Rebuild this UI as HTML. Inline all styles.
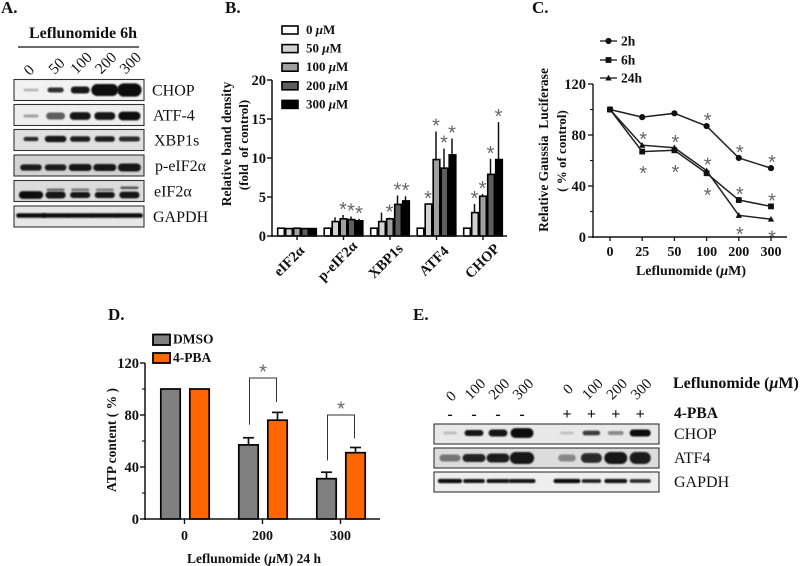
<!DOCTYPE html>
<html>
<head>
<meta charset="utf-8">
<title>Leflunomide figure</title>
<style>
html,body{margin:0;padding:0;background:#fff;}
svg{display:block;}
text{font-family:"Liberation Serif",serif;fill:#111;}
.b{font-weight:bold;}
.r{font-weight:normal;}
.star{font-family:"Liberation Sans",sans-serif;fill:#666;font-size:20px;text-anchor:middle;}
</style>
</head>
<body>
<svg id="fig" xmlns="http://www.w3.org/2000/svg" width="800" height="566" viewBox="0 0 800 566">
<defs>
<filter id="blur" x="-30%" y="-100%" width="160%" height="300%"><feGaussianBlur stdDeviation="0.9"/></filter>
</defs>
<text class="b" x="1" y="13" font-size="17">A.</text>
<text class="b" x="225" y="13" font-size="17">B.</text>
<text class="b" x="532" y="13" font-size="17">C.</text>
<text class="b" x="108" y="320" font-size="17">D.</text>
<text class="b" x="413" y="320" font-size="17">E.</text>

<text class="b" x="29" y="38" font-size="16">Leflunomide 6h</text>
<line x1="18" y1="47" x2="139" y2="47" stroke="#111" stroke-width="1.2"/>

<text class="b" font-size="13.5" text-anchor="middle" transform="translate(231,144) rotate(-90)">Relative band density</text>
<text class="b" font-size="13" text-anchor="middle" transform="translate(248,145) rotate(-90)" xml:space="preserve">(fold  of control)</text>

<text class="b" font-size="13.5" text-anchor="middle" transform="translate(548,150) rotate(-90)" xml:space="preserve">Relative Gaussia  Luciferase</text>
<text class="b" font-size="13" text-anchor="middle" transform="translate(566,151) rotate(-90)">( % of control)</text>
<text class="b" font-size="14" text-anchor="middle" x="691" y="275">Leflunomide (<tspan font-style="italic">μ</tspan>M)</text>

<text class="b" font-size="13.5" text-anchor="middle" transform="translate(116,440) rotate(-90)">ATP content ( % )</text>
<text class="b" font-size="13.5" text-anchor="middle" x="254" y="563">Leflunomide (<tspan font-style="italic">μ</tspan>M) 24 h</text>

<text class="b" font-size="16" x="673" y="388">Leflunomide (<tspan font-style="italic">μ</tspan>M)</text>
<text class="b" font-size="15.5" x="674" y="418">4-PBA</text>

<g id="layer"></g>
</svg>
<script>
// Chart B: relative band density
var bCategories = ['eIF2α', 'p-eIF2α', 'XBP1s', 'ATF4', 'CHOP'];
var bSeriesNames = ['0 μM', '50 μM', '100 μM', '200 μM', '300 μM'];
var bFills = ['#ffffff', '#d2d2d2', '#a0a0a0', '#5e5e5e', '#000000'];
var bValues0 = [1, 1, 1, 1, 1];
var bValues50 = [0.95, 1.85, 1.85, 4.1, 3];
var bValues100 = [1, 2.2, 2.2, 9.8, 5.1];
var bValues200 = [0.95, 2.1, 4.05, 8.7, 7.9];
var bValues300 = [0.95, 1.95, 4.5, 10.4, 9.8];
var bTops0 = [1, 1, 1, 1, 1];
var bTops50 = [0.95, 2.4, 3, 4.1, 4.1];
var bTops100 = [1, 2.7, 2.35, 13.4, 5.4];
var bTops200 = [0.95, 2.5, 5.2, 11.2, 9.9];
var bTops300 = [0.95, 2.2, 5.1, 12.5, 14.6];
var bStars50 = [0, 0, 0, 1, 1];
var bStars100 = [0, 1, 1, 1, 1];
var bStars200 = [0, 1, 1, 1, 1];
var bStars300 = [0, 1, 1, 1, 1];
var bTicks = [0, 5, 10, 15, 20];

// Chart C: luciferase
var cCategories = ['0', '25', '50', '100', '200', '300'];
var cSeries2h = [100, 94, 97, 87, 62, 54];
var cSeries6h = [100, 67, 68, 50, 29, 24];
var cSeries24h = [100, 72, 70, 52, 17, 14];
var cTicks = [0, 40, 80, 120];
var cMinorTicks = [20, 60, 100];
var cStars2hAbove = [0, 0, 0, 1, 1, 1];
var cStars24hAbove = [0, 1, 1, 1, 0, 0];
var cStars6hAbove = [0, 0, 0, 0, 1, 1];
var cStars6hBelow = [0, 1, 1, 1, 0, 0];
var cStars24hBelow = [0, 0, 0, 0, 1, 1];

// Chart D: ATP content
var dCategories = ['0', '200', '300'];
var dDmso = [100, 57, 31];
var dPba = [100, 76, 51];
var dDmsoTops = [100, 62.5, 36];
var dPbaTops = [100, 82, 55];
var dTicks = [0, 40, 80, 120];
var dMinorTicks = [20, 60, 100];
var dBracketTops = [null, 108.5, 80];
var dBracketLeftEnds = [null, 72.5, 45];
var dBracketRightEnds = [null, 90, 62];

// Blot band darkness (0-1), relative width and relative thickness by lane
var aLaneLabels = ['0', '50', '100', '200', '300'];
var aRowLabels = ['CHOP', 'ATF-4', 'XBP1s', 'p-eIF2α', 'eIF2α', 'GAPDH'];
var aDark = [[0.2, 0.8, 0.95, 1, 1], [0.3, 0.6, 0.95, 0.95, 0.97], [0.85, 0.95, 0.9, 0.9, 0.85], [0.9, 0.9, 0.92, 0.92, 0.95], [0.97, 0.95, 0.92, 0.92, 0.95], [0.97, 0.97, 0.97, 0.97, 0.97]];
var aSize = [[0.55, 0.6, 0.7, 1, 0.9], [0.55, 0.7, 0.78, 0.78, 0.82], [0.55, 0.8, 0.75, 0.75, 0.78], [0.8, 0.8, 0.85, 0.85, 0.85], [0.9, 0.75, 0.75, 0.75, 0.75], [1.1, 1, 1, 1, 1]];
var aThick = [[0.2, 0.35, 0.5, 0.85, 0.95], [0.22, 0.5, 0.55, 0.55, 0.62], [0.3, 0.45, 0.4, 0.4, 0.35], [0.45, 0.45, 0.5, 0.5, 0.58], [0.55, 0.5, 0.42, 0.42, 0.48], [0.32, 0.32, 0.32, 0.32, 0.32]];
var aUpperDark = [0, 0.55, 0.5, 0.45, 0.65];
var aBg = ['#f2f2f2', '#eeeeee', '#e0e0e0', '#d2d2d2', '#dcdcdc', '#e6e6e6'];

var eLaneLabels = ['0', '100', '200', '300', '0', '100', '200', '300'];
var eSigns = ['-', '-', '-', '-', '+', '+', '+', '+'];
var eRowLabels = ['CHOP', 'ATF4', 'GAPDH'];
var eDark = [[0.18, 0.95, 0.92, 1, 0.16, 0.75, 0.4, 0.98], [0.5, 0.88, 0.9, 0.95, 0.42, 0.85, 0.95, 0.9], [0.97, 0.92, 0.92, 0.92, 0.97, 0.88, 0.92, 0.85]];
var eSize = [[0.5, 0.7, 0.7, 0.85, 0.5, 0.65, 0.58, 0.78], [0.78, 0.85, 0.85, 0.9, 0.65, 0.78, 0.85, 0.78], [0.9, 0.8, 0.85, 1, 1, 0.72, 0.85, 0.78]];
var eThick = [[0.2, 0.42, 0.5, 0.7, 0.2, 0.34, 0.28, 0.5], [0.5, 0.58, 0.64, 0.85, 0.5, 0.7, 0.85, 0.85], [0.3, 0.28, 0.28, 0.28, 0.3, 0.26, 0.3, 0.26]];
var eBg = ['#e8e8e8', '#dcdcdc', '#eeeeee'];

var NS = 'http://www.w3.org/2000/svg';
var layer = document.getElementById('layer');

function mk(tag, props, name, parent) {
  var el = document.createElementNS(NS, tag);
  for (var k in props) { el.setAttribute(k, props[k]); }
  
  
  (parent || layer).appendChild(el);
  return el;
}
function label(txt, x, y, size, anchor, weight, name, rot) {
  var p = { x: x, y: y, 'font-size': size, 'text-anchor': anchor, 'class': weight };
  if (rot) { p.x = 0; p.y = 0; p.transform = 'translate(' + x + ',' + y + ') rotate(' + rot + ')'; }
  var el = mk('text', p, name);
  el.textContent = txt;
  return el;
}
function line(x1, y1, x2, y2, w, name, color) {
  return mk('line', { x1: x1, y1: y1, x2: x2, y2: y2, stroke: color || '#111', 'stroke-width': w }, name);
}
function star(x, y, name) {
  var el = mk('text', { x: x, y: y + 11.5, 'class': 'star' }, name);
  el.textContent = '*';
}

/* ---- blots ---- */
function gray(d) {
  var v = Math.round(255 * (1 - d) * 0.85 + 8);
  return 'rgb(' + v + ',' + v + ',' + v + ')';
}
function blot(x0, x1, yc, h, bg, laneX, dark, size, thick, bandOff, name) {
  var g = mk('g', {}, name);
  mk('rect', { x: x0, y: yc - h / 2, width: x1 - x0, height: h, fill: bg }, name + '-background', g);
  for (var i = 0; i < dark.length; i++) {
    var bw = 27 * size[i], bh = 14 * thick[i];
    mk('rect', { x: laneX(i) - bw / 2, y: yc + bandOff - bh / 2, width: bw, height: bh, rx: bh / 2, ry: bh / 2, fill: gray(dark[i]), filter: 'url(#blur)' }, name + '-band-' + i, g);
  }
  mk('rect', { x: x0, y: yc - h / 2, width: x1 - x0, height: h, fill: 'none', stroke: '#333', 'stroke-width': 1.1 }, name + '-frame', g);
}
function aLaneX(i) { return 31 + i * 24.6; }
var aRowYs = function (i) { return i < 3 ? 90 + i * 25 : 165.5 + (i - 3) * 25.5; };
var aRowLabelX = [152, 153, 154, 155, 154, 153];
aRowLabels.forEach(function (lab, r) {
  var off = r === 3 ? 2 : (r === 4 ? 4 : (r === 1 ? 1 : (r === 2 || r === 5 ? -1 : 0)));
  blot(14, 144, aRowYs(r), 21, aBg[r], aLaneX, aDark[r], aSize[r], aThick[r], off, 'blot-a-row-' + lab.toLowerCase());
  label(lab, aRowLabelX[r], aRowYs(r) + 5.5, 16, 'start', 'r', 'blot-a-label-' + lab.toLowerCase());
});
aUpperDark.forEach(function (d, i) {
  if (d > 0) {
    mk('rect', { x: aLaneX(i) - 9, y: 188.5 - (i === 4 ? 2 : 0), width: 18, height: 2.6, rx: 1.3, fill: gray(d), filter: 'url(#blur)' }, 'blot-a-eif2a-upper-band-' + i);
  }
});
var aLaneYs = function (i) { return i === 0 ? 71 : (i === 1 ? 67 : 64); };
aLaneLabels.forEach(function (lab, i) {
  label(lab, aLaneX(i) + 2 - (i === 0 ? 3 : 0), aLaneYs(i), 15.5, 'middle', 'r', 'blot-a-lane-' + lab, -45).setAttribute('dominant-baseline', 'middle');
});

function eLaneX(i) { return i < 4 ? 450 + i * 24 : 567 + (i - 4) * 24.4; }
eRowLabels.forEach(function (lab, r) {
  blot(434, 659, 434 + r * 24, 20, eBg[r], eLaneX, eDark[r], eSize[r], eThick[r], r === 1 ? 0 : -1, 'blot-e-row-' + lab.toLowerCase());
  label(lab, 674, 439 + r * 24, 16, 'start', 'r', 'blot-e-label-' + lab.toLowerCase());
});
eLaneLabels.forEach(function (lab, i) {
  var dy = (i === 0) ? 397 : 390;
  label(lab, eLaneX(i) + 2, dy, 15, 'middle', 'r', 'blot-e-lane-' + i, -45).setAttribute('dominant-baseline', 'middle');
  label(eSigns[i], eLaneX(i), 419, 16, 'middle', 'b', 'blot-e-sign-' + i);
});

/* ---- chart B ---- */
var bY = function (v) { return 236 - v * 7.8; };
var bGroupX = function (g) { return 277 + g * 46.5; };
var bValues = [bValues0, bValues50, bValues100, bValues200, bValues300];
var bTops = [bTops0, bTops50, bTops100, bTops200, bTops300];
var bStars = [null, bStars50, bStars100, bStars200, bStars300];
bCategories.forEach(function (cat, g) {
  for (var s = 0; s < 5; s++) {
    var x = bGroupX(g) + s * 8;
    var v = bValues[s][g], t = bTops[s][g];
    if (t > v) { line(x + 3.5, bY(v), x + 3.5, bY(t), 1.5, 'bar-b-error-' + g + '-' + s); }
    mk('rect', { x: x + 0.7, y: bY(v), width: 6.6, height: 236 - bY(v), fill: bFills[s], stroke: '#000', 'stroke-width': 1.6 }, 'bar-b-' + g + '-' + s);
    if (bStars[s] && bStars[s][g]) { star(x + 3.5, bY(t) - 10.5, 'star-b-' + g + '-' + s); }
  }
  line(bGroupX(g) + 20, 236, bGroupX(g) + 20, 240, 1.4, 'tick-b-x-' + g);
  label(cat, bGroupX(g) + 13 + g * 1.8, 262, 14.5, 'middle', 'b', 'label-b-x-' + g, -45).setAttribute('dominant-baseline', 'middle');
});
line(272, 80, 272, 237, 1.5, 'axis-b-y');
line(271, 236, 507, 236, 1.5, 'axis-b-x');
bTicks.forEach(function (t) {
  line(267, bY(t), 272, bY(t), 1.4, 'tick-b-y-' + t);
  label(String(t), 266, bY(t) + 5, 14.5, 'end', 'b', 'label-b-y-' + t);
});
bSeriesNames.forEach(function (n, s) {
  var yy = 26 + s * 18.6;
  mk('rect', { x: 282, y: yy, width: 16, height: 8, fill: bFills[s], stroke: '#000', 'stroke-width': 1.6 }, 'legend-b-swatch-' + s);
  var parts = n.split(' ');
  var t = mk('text', { x: 306, y: yy + 8, 'font-size': 13, 'class': 'b' }, 'legend-b-entry-' + s);
  t.textContent = parts[0] + ' ';
  var sp = mk('tspan', { 'font-style': 'italic' }, 'legend-b-unit-prefix-' + s, t);
  sp.textContent = 'μ';
  t.appendChild(document.createTextNode('M'));
});

/* ---- chart C ---- */
var cY = function (v) { return 237 - v * 1.275; };
var cX = function (i) { return 610 + i * 32.2; };
function marker(kind, x, y, name) {
  if (kind === 'circle') { mk('circle', { cx: x, cy: y, r: 3.1, fill: '#111' }, name); }
  if (kind === 'square') { mk('rect', { x: x - 2.9, y: y - 2.9, width: 5.8, height: 5.8, fill: '#111' }, name); }
  if (kind === 'triangle') { mk('polygon', { points: (x - 3.2) + ',' + (y + 2.5) + ' ' + (x + 3.2) + ',' + (y + 2.5) + ' ' + x + ',' + (y - 3.2), fill: '#111' }, name); }
}
function series(vals, kind, name) {
  var pts = vals.map(function (v, i) { return cX(i) + ',' + cY(v); }).join(' ');
  mk('polyline', { points: pts, fill: 'none', stroke: '#222', 'stroke-width': 1.5 }, 'line-' + name);
  vals.forEach(function (v, i) { marker(kind, cX(i), cY(v), 'point-' + name + '-' + i); });
}
series(cSeries24h, 'triangle', 'c-24h');
series(cSeries6h, 'square', 'c-6h');
series(cSeries2h, 'circle', 'c-2h');
function cStars(flags, vals, off, name) {
  flags.forEach(function (f, i) { if (f) { star(cX(i) + 1, cY(vals[i]) + off, 'star-' + name + '-' + i); } });
}
cStars(cStars2hAbove, cSeries2h, -10.5, 'c-2h-above');
cStars(cStars24hAbove, cSeries24h, -10.5, 'c-24h-above');
cStars(cStars6hAbove, cSeries6h, -10.5, 'c-6h-above');
cStars(cStars6hBelow, cSeries6h, 17, 'c-6h-below');
cStars(cStars24hBelow, cSeries24h, 14, 'c-24h-below');
line(593, 84, 593, 238, 1.4, 'axis-c-y');
line(592, 237, 787, 237, 1.4, 'axis-c-x');
cTicks.forEach(function (t) {
  line(588, cY(t), 593, cY(t), 1.3, 'tick-c-y-' + t);
  label(String(t), 586, cY(t) + 5, 14.5, 'end', 'b', 'label-c-y-' + t);
});
cMinorTicks.forEach(function (t) { line(590, cY(t), 593, cY(t), 1.1, 'minor-tick-c-y-' + t); });
cCategories.forEach(function (c, i) {
  line(cX(i), 237, cX(i), 241, 1.3, 'tick-c-x-' + i);
  label(c, cX(i), 256, 14, 'middle', 'b', 'label-c-x-' + i);
});
var cLegend = [['2h', 'circle'], ['6h', 'square'], ['24h', 'triangle']];
var cLegendY = [41, 60, 78];
cLegend.forEach(function (e, i) {
  line(600, cLegendY[i], 617, cLegendY[i], 1.3, 'legend-c-line-' + e[0]);
  marker(e[1], 608.5, cLegendY[i], 'legend-c-marker-' + e[0]);
  label(e[0], 621, cLegendY[i] + 4.5, 13.5, 'start', 'b', 'legend-c-entry-' + e[0]);
});

/* ---- chart D ---- */
var dY = function (v) { return 519 - v * 1.3; };
var dX = function (g) { return 160 + g * 78; };
dCategories.forEach(function (c, g) {
  var x1 = dX(g), x2 = dX(g) + 29;
  if (dDmsoTops[g] > dDmso[g]) {
    line(x1 + 10.5, dY(dDmso[g]), x1 + 10.5, dY(dDmsoTops[g]), 1.7, 'bar-d-dmso-error-' + g);
    line(x1 + 5, dY(dDmsoTops[g]), x1 + 16, dY(dDmsoTops[g]), 1.7, 'bar-d-dmso-cap-' + g);
  }
  if (dPbaTops[g] > dPba[g]) {
    line(x2 + 10.5, dY(dPba[g]), x2 + 10.5, dY(dPbaTops[g]), 1.7, 'bar-d-pba-error-' + g);
    line(x2 + 5, dY(dPbaTops[g]), x2 + 16, dY(dPbaTops[g]), 1.7, 'bar-d-pba-cap-' + g);
  }
  mk('rect', { x: x1 + 0.8, y: dY(dDmso[g]), width: 19.4, height: 519 - dY(dDmso[g]), fill: '#808080', stroke: '#000', 'stroke-width': 1.7 }, 'bar-d-dmso-' + c);
  mk('rect', { x: x2 + 0.8, y: dY(dPba[g]), width: 19.4, height: 519 - dY(dPba[g]), fill: '#ff6600', stroke: '#000', 'stroke-width': 1.7 }, 'bar-d-pba-' + c);
  line(x1 + 24.5, 519, x1 + 24.5, 524, 1.4, 'tick-d-x-' + c);
  label(c, x1 + 24.5, 540, 14, 'middle', 'b', 'label-d-x-' + c);
  if (dBracketTops[g] !== null) {
    var bx1 = x1 + 11.5, bx2 = x2 + 9.5;
    mk('polyline', { points: bx1 + ',' + dY(dBracketLeftEnds[g]) + ' ' + bx1 + ',' + dY(dBracketTops[g]) + ' ' + bx2 + ',' + dY(dBracketTops[g]) + ' ' + bx2 + ',' + dY(dBracketRightEnds[g]), fill: 'none', stroke: '#333', 'stroke-width': 1 }, 'bracket-d-' + c);
    star((bx1 + bx2) / 2, dY(dBracketTops[g]) - 11, 'star-d-' + c);
  }
});
line(145, 363, 145, 520, 1.5, 'axis-d-y');
line(144, 519, 380, 519, 1.5, 'axis-d-x');
dTicks.forEach(function (t) {
  line(140, dY(t), 145, dY(t), 1.4, 'tick-d-y-' + t);
  label(String(t), 139, dY(t) + 5, 14.5, 'end', 'b', 'label-d-y-' + t);
});
dMinorTicks.forEach(function (t) { line(142, dY(t), 145, dY(t), 1.1, 'minor-tick-d-y-' + t); });
mk('rect', { x: 153, y: 334.5, width: 17, height: 10.5, fill: '#808080', stroke: '#000', 'stroke-width': 1.8 }, 'legend-d-swatch-dmso');
mk('rect', { x: 153, y: 353, width: 17, height: 10, fill: '#ff6600', stroke: '#000', 'stroke-width': 1.8 }, 'legend-d-swatch-pba');
label('DMSO', 173, 343.5, 13.5, 'start', 'b', 'legend-d-entry-dmso');
label('4-PBA', 173, 362, 13.5, 'start', 'b', 'legend-d-entry-pba');
</script>
</body>
</html>
